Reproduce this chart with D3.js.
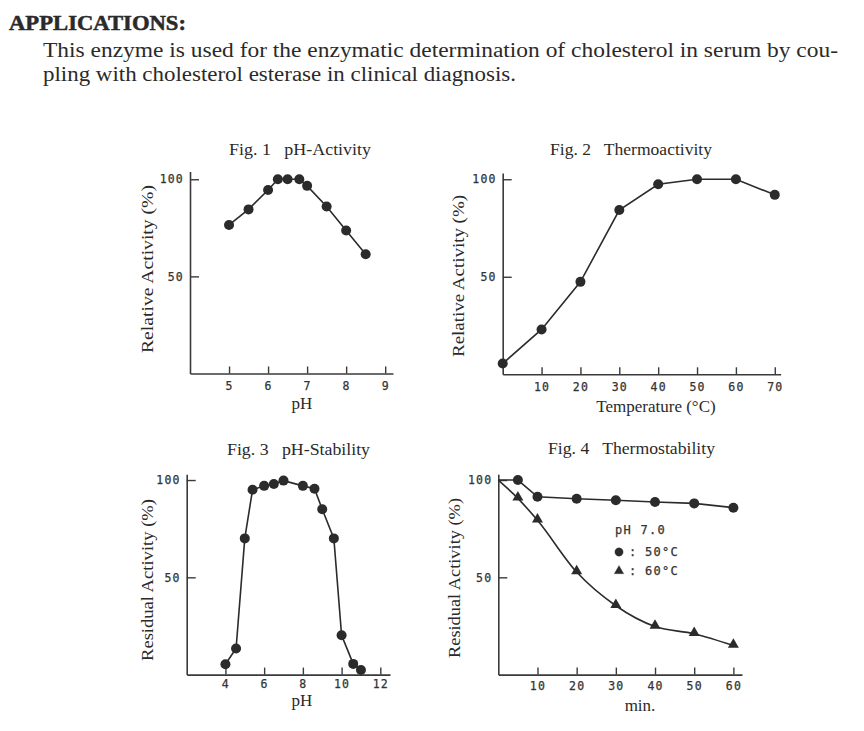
<!DOCTYPE html>
<html>
<head>
<meta charset="utf-8">
<script src="https://cdn.jsdelivr.net/npm/d3@7"></script>
<style>
  html, body { margin: 0; padding: 0; background: #fff; }
  svg { display: block; }
  .serif { font-family: "Liberation Serif", "Times New Roman", serif; fill: #2a2a2a; }
  .tick text, .mono { font-family: "DejaVu Sans Mono", "Liberation Mono", monospace; fill: #333; }
</style>
</head>
<body>
<script>
// ---------------- DATA ----------------
const headerTitle = "APPLICATIONS:";
const headerLines = [
  "This enzyme is used for the enzymatic determination of cholesterol in serum by cou-",
  "pling with cholesterol esterase in clinical diagnosis."
];

// Fig. 1 pH-Activity
const fig1pH = [5, 5.5, 6, 6.25, 6.5, 6.8, 7, 7.5, 8, 8.5];
const fig1Activity = [76.5, 84.5, 94.5, 100, 100, 100, 96.6, 86, 73.6, 61.4];
const fig1XTicks = [5, 6, 7, 8, 9];

// Fig. 2 Thermoactivity
const fig2Temp = [0, 10, 20, 30, 40, 50, 60, 70];
const fig2Activity = [5.5, 23, 47.4, 84.2, 97.4, 100, 100, 92];
const fig2XTicks = [10, 20, 30, 40, 50, 60, 70];

// Fig. 3 pH-Stability
const fig3pH = [4, 4.55, 5, 5.4, 6, 6.5, 7, 8, 8.6, 9, 9.6, 10, 10.6, 11];
const fig3Residual = [5.3, 13.4, 70, 95, 97, 98, 99.7, 97, 95.5, 85, 70, 20.2, 5.5, 2.4];
const fig3XTicks = [4, 6, 8, 10, 12];

// Fig. 4 Thermostability (pH 7.0)
const fig4Min = [0, 5, 10, 20, 30, 40, 50, 60];
const fig4At50 = [100, 100, 91.4, 90.4, 89.6, 88.7, 88, 85.8];
const fig4At60 = [100, 90.6, 79.3, 52.7, 35.4, 24.7, 21, 14.9];
const fig4XTicks = [10, 20, 30, 40, 50, 60];

const yTicks = [50, 100];

// ---------------- DRAW ----------------
const W = 864, H = 731;
const ink = "#2b2b2b";
const svg = d3.select("body").append("svg").attr("width", W).attr("height", H);

// Header
svg.append("text").attr("class", "serif")
  .attr("x", 9).attr("y", 30)
  .attr("font-size", 21).style("font-weight", "bold")
  .attr("stroke", "#2a2a2a").attr("stroke-width", 0.5)
  .attr("textLength", 177).attr("lengthAdjust", "spacingAndGlyphs")
  .text(headerTitle);
svg.append("text").attr("class", "serif")
  .attr("x", 43).attr("y", 57).attr("font-size", 20)
  .attr("textLength", 795).attr("lengthAdjust", "spacingAndGlyphs")
  .text(headerLines[0]);
svg.append("text").attr("class", "serif")
  .attr("x", 43).attr("y", 81).attr("font-size", 20)
  .attr("textLength", 473).attr("lengthAdjust", "spacingAndGlyphs")
  .text(headerLines[1]);

function panel(cfg) {
  const g = svg.append("g");
  const x = d3.scaleLinear().domain(cfg.xDomain).range(cfg.xRange);
  const y = d3.scaleLinear().domain(cfg.yDomain).range(cfg.yRange);

  const xAxis = d3.axisBottom(x).tickValues(cfg.xTicks).tickFormat(d3.format("d"))
    .tickSizeInner(-7).tickSizeOuter(0).tickPadding(cfg.xPad);
  const yAxis = d3.axisLeft(y).tickValues(yTicks).tickFormat(d3.format("d"))
    .tickSizeInner(-9).tickSizeOuter(0).tickPadding(6);

  const gx = g.append("g").attr("transform", `translate(0,${cfg.yRange[0]})`).call(xAxis);
  const gy = g.append("g").attr("transform", `translate(${cfg.xRange[0]},0)`).call(yAxis);
  [gx, gy].forEach(a => {
    a.select(".domain").attr("stroke", "#3a3a3a").attr("stroke-width", 1.6);
    a.selectAll(".tick line").attr("stroke", "#3a3a3a").attr("stroke-width", 1.4);
    a.selectAll(".tick text").attr("font-size", 11.5).attr("letter-spacing", 1.2)
      .attr("fill", "#333").attr("stroke", "#333").attr("stroke-width", 0.25);
  });

  // title
  g.append("text").attr("class", "serif").attr("font-size", 16.5)
    .attr("x", cfg.titleX).attr("y", cfg.titleY)
    .style("white-space", "pre")
    .attr("textLength", cfg.titleLen).attr("lengthAdjust", "spacingAndGlyphs")
    .text(cfg.title);
  // x label
  g.append("text").attr("class", "serif").attr("font-size", 17)
    .attr("text-anchor", "middle")
    .attr("x", cfg.xLabelX).attr("y", cfg.xLabelY)
    .text(cfg.xLabel);
  // y label
  g.append("text").attr("class", "serif").attr("font-size", 17)
    .attr("text-anchor", "middle")
    .attr("transform", `translate(${cfg.yLabelX},${cfg.yLabelY}) rotate(-90)`)
    .attr("textLength", cfg.yLabelLen).attr("lengthAdjust", "spacingAndGlyphs")
    .text(cfg.yLabel);

  cfg.series.forEach(s => {
    const pts = s.xs.map((v, i) => [v, s.ys[i]]);
    const line = d3.line().x(d => x(d[0])).y(d => y(d[1])).curve(s.curve || d3.curveLinear);
    g.append("path").attr("d", line(pts)).attr("fill", "none")
      .attr("stroke", ink).attr("stroke-width", 1.6);
    const mp = pts.filter(d => !(s.skipFirst && d === pts[0]));
    if (s.marker === "triangle") {
      const sym = d3.symbol().type(d3.symbolTriangle).size(52);
      g.selectAll(null).data(mp).join("path")
        .attr("d", sym)
        .attr("transform", d => `translate(${x(d[0])},${y(d[1]) - 1})`)
        .attr("fill", ink);
    } else {
      g.selectAll(null).data(mp).join("circle")
        .attr("cx", d => x(d[0])).attr("cy", d => y(d[1])).attr("r", 5)
        .attr("fill", ink);
    }
  });
  return {g, x, y};
}

panel({
  xDomain: [4, 9.2], xRange: [190, 393],
  yDomain: [0, 104], yRange: [373.5, 171.5],
  xTicks: fig1XTicks, xPad: 8.5,
  title: "Fig. 1   pH-Activity", titleX: 229, titleY: 155, titleLen: 142,
  xLabel: "pH", xLabelX: 302, xLabelY: 409,
  yLabel: "Relative Activity (%)", yLabelX: 153, yLabelY: 269, yLabelLen: 168,
  series: [{xs: fig1pH, ys: fig1Activity, marker: "circle"}]
});

panel({
  xDomain: [0, 71.5], xRange: [502.7, 780.6],
  yDomain: [0, 103.2], yRange: [374.3, 173],
  xTicks: fig2XTicks, xPad: 9,
  title: "Fig. 2   Thermoactivity", titleX: 550, titleY: 155, titleLen: 162,
  xLabel: "Temperature (°C)", xLabelX: 656, xLabelY: 412,
  yLabel: "Relative Activity (%)", yLabelX: 464, yLabelY: 276, yLabelLen: 162,
  series: [{xs: fig2Temp, ys: fig2Activity, marker: "circle"}]
});

panel({
  xDomain: [2, 12.5], xRange: [186.7, 390],
  yDomain: [0, 103], yRange: [674.6, 474.2],
  xTicks: fig3XTicks, xPad: 5.5,
  title: "Fig. 3   pH-Stability", titleX: 227, titleY: 455, titleLen: 143,
  xLabel: "pH", xLabelX: 302, xLabelY: 706,
  yLabel: "Residual Activity (%)", yLabelX: 153, yLabelY: 580, yLabelLen: 162,
  series: [{xs: fig3pH, ys: fig3Residual, marker: "circle"}]
});

panel({
  xDomain: [0, 62.2], xRange: [498.3, 742],
  yDomain: [0, 103], yRange: [674.6, 474.2],
  xTicks: fig4XTicks, xPad: 7.5,
  title: "Fig. 4   Thermostability", titleX: 548, titleY: 454, titleLen: 167,
  xLabel: "min.", xLabelX: 640, xLabelY: 711,
  yLabel: "Residual Activity (%)", yLabelX: 460, yLabelY: 578, yLabelLen: 160,
  series: [
    {xs: fig4Min, ys: fig4At50, marker: "circle", skipFirst: true},
    {xs: fig4Min, ys: fig4At60, marker: "triangle", skipFirst: true, curve: d3.curveMonotoneX}
  ]
});

// Fig. 4 legend
const lg = svg.append("g").attr("class", "mono").attr("font-size", 12).attr("letter-spacing", 1.3)
  .attr("stroke", "#333").attr("stroke-width", 0.25);
lg.append("text").attr("x", 615).attr("y", 534).text("pH 7.0");
lg.append("circle").attr("cx", 619).attr("cy", 552).attr("r", 4.2).attr("fill", ink);
lg.append("text").attr("x", 629).attr("y", 556).text(":");
lg.append("text").attr("x", 645).attr("y", 556).text("50°C");
lg.append("path").attr("d", d3.symbol().type(d3.symbolTriangle).size(40))
  .attr("transform", "translate(619,571)").attr("fill", ink);
lg.append("text").attr("x", 629).attr("y", 575).text(":");
lg.append("text").attr("x", 645).attr("y", 575).text("60°C");
</script>
</body>
</html>
